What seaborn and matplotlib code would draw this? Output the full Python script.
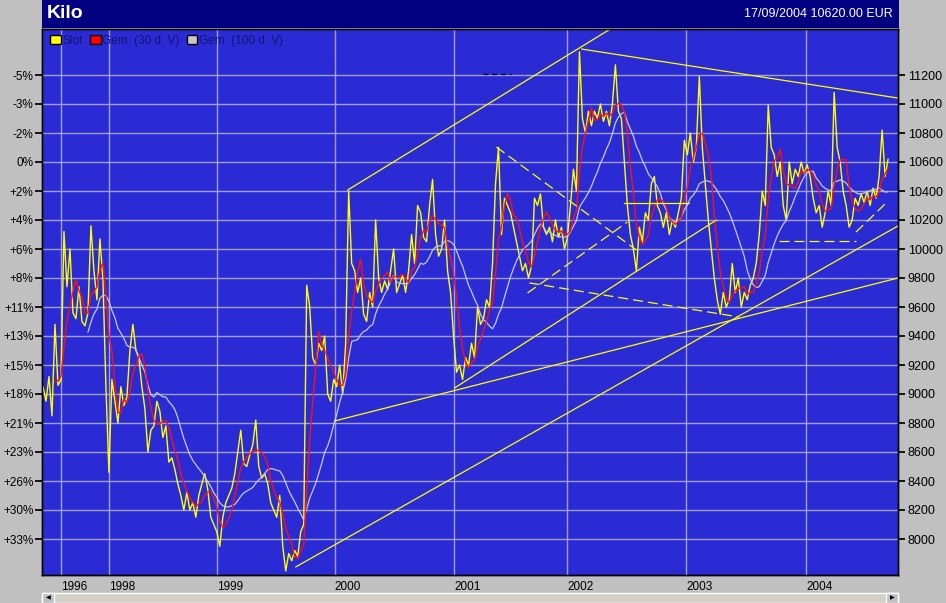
import numpy as np
import pandas as pd
import matplotlib
matplotlib.use("Agg")
import matplotlib.pyplot as plt
import seaborn as sns
from matplotlib.patches import Rectangle, Patch

# gold price per kilo (EUR), one reading every few trading days
price = [
    9050, 8950, 9120, 8850, 9480, 9060, 9100, 10120, 9740, 10000,
    9560, 9520, 9740, 9500, 9470, 9560, 10160, 9850, 9650, 10070,
    9790, 9050, 8460, 9100, 8950, 8800, 9050, 8920, 8980, 9300,
    9480, 9300, 9250, 9050, 8900, 8600, 8750, 8780, 8950, 8880,
    8700, 8780, 8530, 8560, 8480, 8380, 8300, 8200, 8320, 8200,
    8250, 8150, 8300, 8380, 8450, 8340, 8150, 8100, 8050, 7950,
    8150, 8250, 8300, 8350, 8450, 8600, 8750, 8520, 8500, 8580,
    8650, 8820, 8500, 8420, 8450, 8380, 8250, 8200, 8150, 8300,
    7950, 7780, 7900, 7850, 7920, 7880, 8050, 8100, 9750, 9600,
    9250, 9200, 9350, 9300, 9400, 9000, 8950, 9100, 9050, 9200,
    9000, 9350, 10400, 9900, 9850, 9700, 9800, 9550, 9500, 9700,
    9600, 10200, 9800, 9700, 9780, 9720, 9850, 10000, 9700, 9760,
    9820, 9700, 9850, 10100, 9900, 10300, 10250, 10080, 10050, 10300,
    10480, 10100, 9950, 10000, 10200, 9850, 9700, 9400, 9150, 9200,
    9100, 9250, 9200, 9350, 9250, 9600, 9480, 9520, 9650, 9600,
    9900, 10450, 10700, 10100, 10350, 10300, 10250, 10150, 10050, 9950,
    9850, 9900, 9800, 9880, 10350, 10300, 10380, 10150, 10100, 10150,
    10050, 10200, 10080, 10150, 10000, 10080, 10300, 10550, 10400, 11360,
    10900, 10800, 10950, 10850, 10950, 10900, 11000, 10880, 10950, 10850,
    11000, 11270, 10950, 10900, 10600, 10300, 10100, 10000, 9850, 10150,
    10050, 10250, 10200, 10450, 10500, 10300, 10250, 10150, 10250, 10100,
    10200, 10150, 10250, 10350, 10750, 10650, 10800, 10600, 10700, 11190,
    10700, 10450, 10200, 10000, 9800, 9650, 9550, 9700, 9600, 9650,
    9900, 9700, 9800, 9600, 9700, 9650, 9750, 9800, 9900, 10100,
    10400, 10300, 10990, 10700, 10650, 10500, 10600, 10300, 10200, 10600,
    10450, 10550, 10500, 10600, 10520, 10580, 10500, 10350, 10250, 10300,
    10150, 10250, 10400, 10300, 11080, 10700, 10600, 10400, 10300, 10150,
    10200, 10350, 10300, 10380, 10320, 10400, 10300, 10420, 10350, 10500,
    10820, 10500, 10620,
]

years = ["1996", "1998", "1999", "2000", "2001", "2002", "2003", "2004"]
year_pos = [6, 22, 58, 97.3, 137.3, 175, 214.7, 254.7]

price_ticks = [11200, 11000, 10800, 10600, 10400, 10200, 10000, 9800, 9600,
               9400, 9200, 9000, 8800, 8600, 8400, 8200, 8000]
pct_labels = ["-5%", "-3%", "-2%", "0%", "+2%", "+4%", "+6%", "+8%", "+11%",
              "+13%", "+15%", "+18%", "+21%", "+23%", "+26%", "+30%", "+33%"]

# drawn trend lines: (t0, p0, t1, p1)
solid_lines = [
    (101.7, 10407, 189.3, 11517),
    (179.7, 11379, 285.3, 11041),
    (84.3, 7807, 285.3, 10159),
    (97.3, 8814, 285.3, 9800),
    (137.3, 9041, 224.7, 10200),
    (194.0, 10317, 215.7, 10317),
]
dashed_lines = [
    (151.3, 10703, 198.0, 9993),
    (161.7, 9697, 195.0, 10186),
    (162.3, 9766, 232.3, 9531),
    (245.7, 10055, 271.3, 10055),
    (271.3, 10117, 281.3, 10317),
]
black_dashed = [(146.7, 11207, 156.3, 11207)]

df = pd.DataFrame({"t": np.arange(len(price)), "price": price})
df["ma30"] = df["price"].rolling(5).mean()
df["ma100"] = df["price"].rolling(16).mean()

sns.set_theme(style="white")
plt.rcParams["font.family"] = ["Liberation Sans", "DejaVu Sans"]

W, H = 946, 603
fig = plt.figure(figsize=(W / 100, H / 100), dpi=100)
fig.patch.set_facecolor("#C0C0C0")

L, R, T, B = 42, 898, 29, 575
ax = fig.add_axes([L / W, 1 - B / H, (R - L) / W, (B - T) / H])
ax.set_facecolor("#2B2BD6")

grid_c = "#A0A0E6"
for p in price_ticks:
    ax.axhline(p, color=grid_c, lw=1, zorder=0)
for xp in year_pos:
    ax.axvline(xp, color=grid_c, lw=1, zorder=0)

sns.lineplot(data=df, x="t", y="price", ax=ax, color="#FFFF00", lw=1.0, zorder=3)
sns.lineplot(data=df, x="t", y="ma100", ax=ax, color="#C8C8D8", lw=0.9, zorder=4)
sns.lineplot(data=df, x="t", y="ma30", ax=ax, color="#FF1010", lw=1.0, zorder=5)

for t0, p0, t1, p1 in solid_lines:
    ax.plot([t0, t1], [p0, p1], color="#FFFF00", lw=0.9, zorder=6)
for t0, p0, t1, p1 in dashed_lines:
    ax.plot([t0, t1], [p0, p1], color="#FFFF00", lw=0.9, ls=(0, (8, 4)), zorder=6)
for t0, p0, t1, p1 in black_dashed:
    ax.plot([t0, t1], [p0, p1], color="black", lw=0.9, ls=(0, (4, 3)), zorder=6)

ymax = 11200 + 46 * 200 / 29
ymin = 11200 - 500 * 200 / 29
ax.set_xlim(-0.33, 285.3)
ax.set_ylim(ymin, ymax)
ax.set_xlabel("")
ax.set_ylabel("")

ax.set_xticks(year_pos)
ax.set_xticklabels(years, fontsize=8.5, ha="left", color="black")
ax.tick_params(axis="x", direction="out", length=4, color="black", pad=0)
ax.set_yticks(price_ticks)
ax.set_yticklabels(pct_labels, fontsize=8.5, color="black")
ax.tick_params(axis="y", direction="out", length=5, color="black", pad=1, left=True)

ax2 = ax.twinx()
ax2.set_ylim(ymin, ymax)
ax2.set_yticks(price_ticks)
ax2.set_yticklabels([str(p) for p in price_ticks], fontsize=9, color="black")
ax2.tick_params(axis="y", direction="out", length=5, color="black", pad=2, right=True)

for a in (ax, ax2):
    for s in a.spines.values():
        s.set_color("black")
        s.set_linewidth(1)

handles = [
    Patch(facecolor="#FFFF00", edgecolor="black", label="Slot"),
    Patch(facecolor="#FF0000", edgecolor="black", label="Gem. (30 d. V)"),
    Patch(facecolor="#C8C8C8", edgecolor="black", label="Gem. (100 d. V)"),
]
leg = ax.legend(handles=handles, loc="upper left", bbox_to_anchor=(0.0, 1.005),
                ncol=3, frameon=False, fontsize=8.5, handlelength=0.9,
                handleheight=0.9, handletextpad=0.15, columnspacing=0.6,
                borderaxespad=0.3)
for txt in leg.get_texts():
    txt.set_color("#14146E")

# title bar
fig.patches.append(Rectangle((L / W, 1 - 28 / H), (R - L + 1) / W, 28 / H,
                             transform=fig.transFigure, facecolor="#000080",
                             edgecolor="none", zorder=0))
fig.text((L + 5) / W, 1 - 14 / H, "Kilo", color="white", fontsize=14,
         fontweight="bold", va="center", ha="left")
fig.text((R - 5) / W, 1 - 14 / H, "17/09/2004 10620.00 EUR", color="white",
         fontsize=9, va="center", ha="right")

# scroll bar
fig.patches.append(Rectangle((L / W, 0), (R - L) / W, 10 / H,
                             transform=fig.transFigure, facecolor="#D4D0C8",
                             edgecolor="white", lw=1, zorder=0))
fig.patches.append(Rectangle((L / W, 0), 12 / W, 10 / H,
                             transform=fig.transFigure, facecolor="#C0C0C0",
                             edgecolor="white", lw=1, zorder=1))
fig.patches.append(Rectangle(((R - 12) / W, 0), 12 / W, 10 / H,
                             transform=fig.transFigure, facecolor="#C0C0C0",
                             edgecolor="white", lw=1, zorder=1))
fig.text((L + 6) / W, 5 / H, "◀", fontsize=4.5, ha="center", va="center", color="black")
fig.text((R - 6) / W, 5 / H, "▶", fontsize=4.5, ha="center", va="center", color="black")

fig.savefig("out.png", dpi=100, facecolor=fig.get_facecolor())
